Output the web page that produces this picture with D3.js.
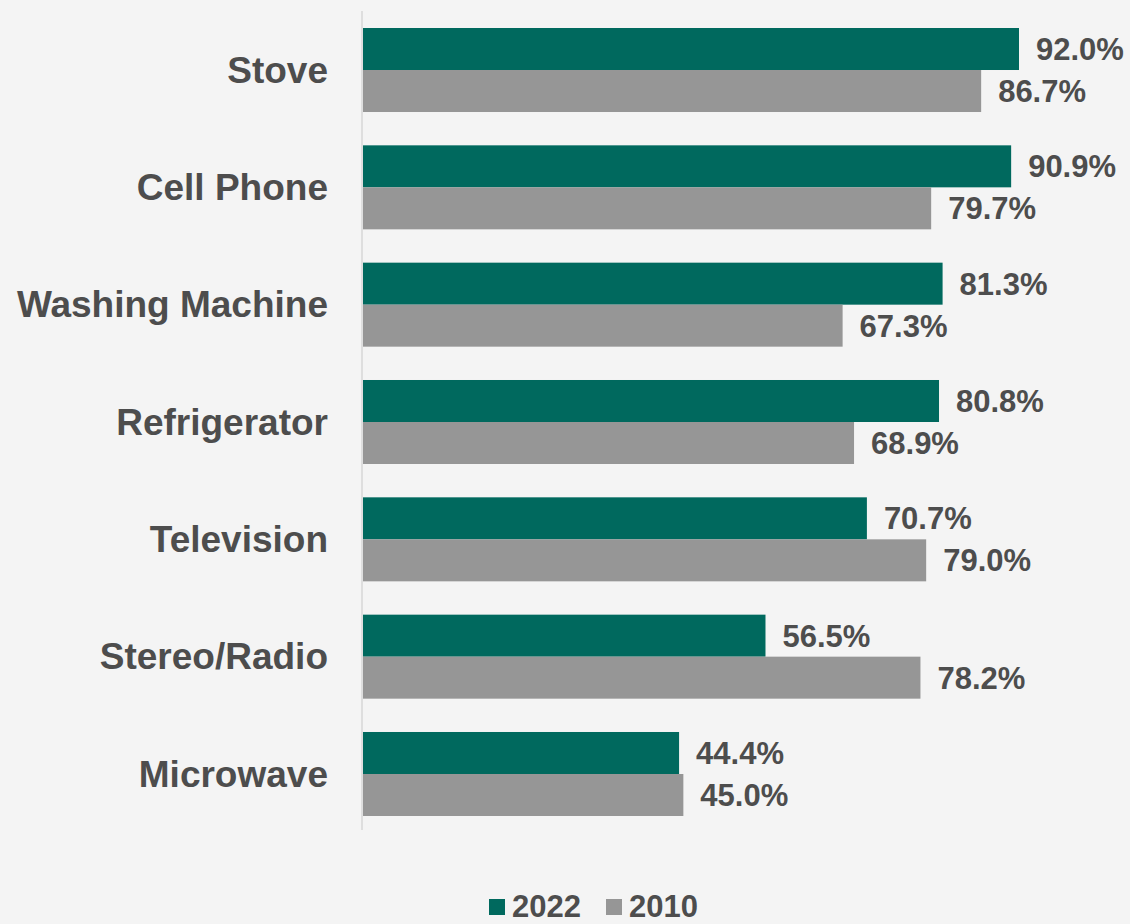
<!DOCTYPE html>
<html>
<head>
<meta charset="utf-8">
<script src="https://cdn.jsdelivr.net/npm/d3@7"></script>
<style>
  body { margin: 0; background: #f4f4f4; }
  text { font-family: "Liberation Sans", Arial, sans-serif; font-weight: bold; fill: #4d4d4d; }
</style>
</head>
<body>
<div id="chart"></div>
<script>
// Chart data
const categories = ["Stove", "Cell Phone", "Washing Machine", "Refrigerator", "Television", "Stereo/Radio", "Microwave"];
const seriesNames = ["2022", "2010"];
const values2022 = [92.0, 90.9, 81.3, 80.8, 70.7, 56.5, 44.4];
const values2010 = [86.7, 79.7, 67.3, 68.9, 79.0, 78.2, 45.0];
const colors = ["#00695e", "#969696"];

const width = 1130, height = 924;
const margin = { top: 11, left: 362 };

const svg = d3.select("#chart").append("svg")
    .attr("width", width)
    .attr("height", height);

svg.append("rect").attr("width", width).attr("height", height).attr("fill", "#f4f4f4");

// x scale in percent
const x = d3.scaleLinear().domain([0, 92]).range([margin.left, 1019]);

// category bands
const y = d3.scaleBand()
    .domain(categories)
    .range([28, 816])
    .paddingInner(0.284)
    .paddingOuter(0);

const inner = d3.scaleBand()
    .domain(seriesNames)
    .range([0, y.bandwidth()]);

const rows = categories.map((c, i) => ({ cat: c, vals: [values2022[i], values2010[i]] }));

const groups = svg.selectAll(".cat")
    .data(rows)
    .enter().append("g")
    .attr("class", "cat")
    .attr("transform", d => `translate(0,${y(d.cat)})`);

groups.selectAll("rect")
    .data(d => d.vals.map((v, j) => ({ key: seriesNames[j], v: v, j: j })))
    .enter().append("rect")
    .attr("x", x(0) + 1)
    .attr("y", d => inner(d.key))
    .attr("width", d => x(d.v) - x(0) - 1)
    .attr("height", inner.bandwidth())
    .attr("fill", d => colors[d.j]);

// value labels
groups.selectAll(".val")
    .data(d => d.vals.map((v, j) => ({ key: seriesNames[j], v: v })))
    .enter().append("text")
    .attr("class", "val")
    .attr("x", d => x(d.v) + 17)
    .attr("y", d => inner(d.key) + inner.bandwidth() / 2)
    .attr("dy", "0.36em")
    .style("font-size", "31px")
    .text(d => d.v.toFixed(1) + "%");

// category axis
const yAxis = svg.append("g")
    .attr("transform", `translate(${margin.left},0)`)
    .call(d3.axisLeft(y).tickSize(0).tickPadding(34));
yAxis.select(".domain").attr("d", `M0,${margin.top}V${830}`).attr("stroke", "#dedede").attr("stroke-width", 2);
yAxis.selectAll(".tick text")
    .style("font-size", "37px")
    .style("font-family", "Liberation Sans, Arial, sans-serif")
    .attr("fill", "#4d4d4d")
    .attr("dy", "0.34em");

// legend
const legend = svg.append("g").attr("class", "legend");
const legendX = [489, 606];
seriesNames.forEach((s, i) => {
    legend.append("rect")
        .attr("x", legendX[i]).attr("y", 899)
        .attr("width", 16).attr("height", 16)
        .attr("fill", colors[i]);
    legend.append("text")
        .attr("x", legendX[i] + 23).attr("y", 917)
        .style("font-size", "31px")
        .text(s);
});
</script>
</body>
</html>
